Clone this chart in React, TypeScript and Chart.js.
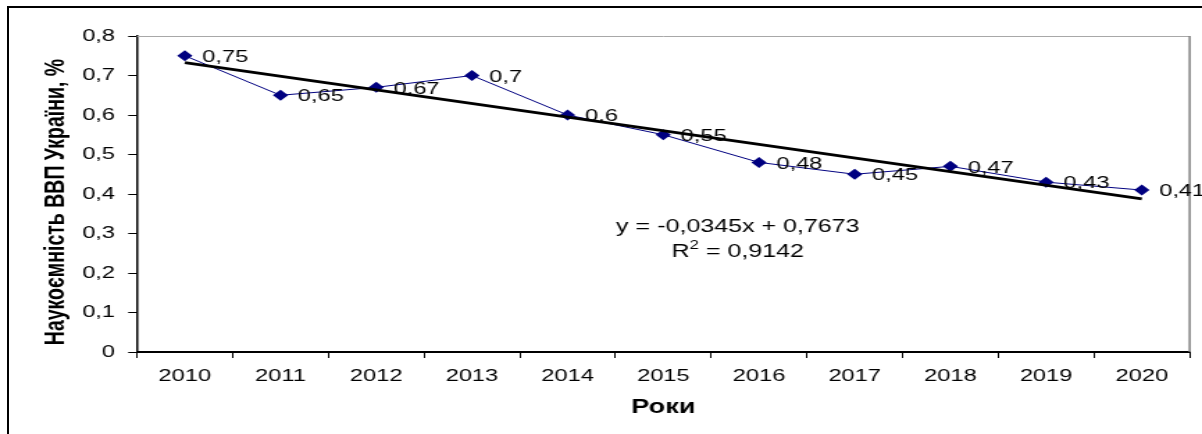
import React, { useEffect, useRef } from 'react';
import { Chart, registerables } from 'chart.js';

Chart.register(...registerables);

// ---- data ----
const years = ['2010', '2011', '2012', '2013', '2014', '2015', '2016', '2017', '2018', '2019', '2020'];
const values = [0.75, 0.65, 0.67, 0.7, 0.6, 0.55, 0.48, 0.45, 0.47, 0.43, 0.41];
const valueLabels = ['0,75', '0,65', '0,67', '0,7', '0,6', '0,55', '0,48', '0,45', '0,47', '0,43', '0,41'];
// linear trend (endpoints of the displayed trendline y = -0,0345x + 0,7673)
const trendValues = [0.7328, null, null, null, null, null, null, null, null, null, 0.3878];
const equationText = 'y = -0,0345x + 0,7673';
const r2Parts = ['R', '2', ' = 0,9142'];
const yTitle = 'Наукоємність ВВП України, %';
const xTitle = 'Роки';
const yMin = 0;
const yMax = 0.8;
const yStep = 0.1;

// ---- layout ----
const CSS_W = 1202;
const H = 434;
const STRETCH = 1.39;
const W = Math.round(CSS_W / STRETCH);
const FONT = '"Liberation Sans", Arial, sans-serif';
const sx = (v: number) => v / STRETCH;

const overlayPlugin = {
  id: 'overlay',
  beforeDatasetsDraw(chart: any) {
    const { ctx, chartArea: a } = chart;
    ctx.save();
    ctx.strokeStyle = '#a8a8a8';
    ctx.lineWidth = 1;
    ctx.beginPath();
    ctx.moveTo(a.left, a.top + 0.5);
    ctx.lineTo(a.right, a.top + 0.5);
    ctx.stroke();
    ctx.strokeStyle = '#808080';
    ctx.lineWidth = 1.5;
    ctx.beginPath();
    ctx.moveTo(a.right, a.top);
    ctx.lineTo(a.right, a.bottom);
    ctx.stroke();
    ctx.restore();
  },
  afterDatasetsDraw(chart: any) {
    const { ctx, chartArea: a } = chart;
    const meta = chart.getDatasetMeta(1);
    ctx.save();
    ctx.fillStyle = '#000';
    // data labels
    ctx.font = `17px ${FONT}`;
    ctx.textAlign = 'left';
    ctx.textBaseline = 'middle';
    meta.data.forEach((pt: any, i: number) => {
      ctx.fillText(valueLabels[i], pt.x + 12.5, pt.y + 1.5);
    });
    // equation
    const cx = sx(738);
    ctx.font = `18px ${FONT}`;
    ctx.textAlign = 'center';
    ctx.fillText(equationText, cx, 227);
    const big = `18px ${FONT}`;
    const small = `12px ${FONT}`;
    ctx.font = big;
    const wR = ctx.measureText(r2Parts[0]).width;
    const wRest = ctx.measureText(r2Parts[2]).width;
    ctx.font = small;
    const w2 = ctx.measureText(r2Parts[1]).width;
    let x0 = cx - (wR + w2 + wRest) / 2;
    ctx.textAlign = 'left';
    ctx.font = big;
    ctx.fillText(r2Parts[0], x0, 252);
    x0 += wR;
    ctx.font = small;
    ctx.fillText(r2Parts[1], x0, 246);
    x0 += w2;
    ctx.font = big;
    ctx.fillText(r2Parts[2], x0, 252);
    // axis titles
    ctx.font = `bold 19.5px ${FONT}`;
    ctx.textAlign = 'center';
    ctx.fillText(xTitle, (a.left + a.right) / 2, 408);
    ctx.translate(sx(57), 202);
    ctx.rotate(-Math.PI / 2);
    ctx.fillText(yTitle, 0, 0);
    ctx.restore();
  },
};

export default function App() {
  const canvasRef = useRef<HTMLCanvasElement | null>(null);

  useEffect(() => {
    const canvas = canvasRef.current;
    if (!canvas) return;
    const chart = new Chart(canvas, {
      type: 'line',
      data: {
        labels: years,
        datasets: [
          {
            label: 'trend',
            data: trendValues,
            borderColor: '#000',
            borderWidth: 2.8,
            pointRadius: 0,
            spanGaps: true,
            fill: false,
          },
          {
            label: 'values',
            data: values,
            borderColor: '#000080',
            borderWidth: 1,
            pointStyle: 'rectRot',
            pointRadius: 5.5,
            pointBackgroundColor: '#000080',
            pointBorderColor: '#000080',
            pointBorderWidth: 0,
            tension: 0,
            fill: false,
          },
        ],
      },
      options: {
        animation: false,
        responsive: false,
        events: [],
        layout: { padding: { left: 0, top: 36, right: W - sx(1190), bottom: 0 } },
        plugins: { legend: { display: false }, tooltip: { enabled: false } },
        scales: {
          x: {
            type: 'category',
            offset: true,
            grid: { offset: true, drawOnChartArea: false, drawTicks: true, tickLength: 6, color: '#000', lineWidth: 1 },
            border: { display: true, color: '#000', width: 2 },
            ticks: { color: '#000', font: { family: FONT, size: 17 }, padding: 8, maxRotation: 0, autoSkip: false },
            afterFit: (s: any) => {
              s.height = H - 352;
            },
          },
          y: {
            min: yMin,
            max: yMax,
            grid: { drawOnChartArea: false, drawTicks: true, tickLength: 6.3, color: '#000', lineWidth: 1 },
            border: { display: true, color: '#000', width: 1.5 },
            ticks: {
              stepSize: yStep,
              color: '#000',
              font: { family: FONT, size: 17 },
              padding: 9.5,
              callback: (v: any) => (Number(v) === 0 ? '0' : Number(v).toFixed(1).replace('.', ',')),
            },
            afterFit: (s: any) => {
              s.width = sx(137);
            },
          },
        },
      },
      plugins: [overlayPlugin],
    });
    return () => chart.destroy();
  }, []);

  return (
    <div style={{ position: 'fixed', left: 0, top: 0, width: CSS_W, height: H, background: '#fff', overflow: 'hidden' }}>
      <canvas ref={canvasRef} width={W} height={H} style={{ width: `${CSS_W}px`, height: `${H}px`, display: 'block' }} />
      <div
        style={{
          position: 'absolute',
          left: 7,
          top: 6,
          right: -20,
          bottom: -20,
          borderTop: '2px solid #000',
          borderLeft: '2px solid #000',
          pointerEvents: 'none',
        }}
      />
    </div>
  );
}
